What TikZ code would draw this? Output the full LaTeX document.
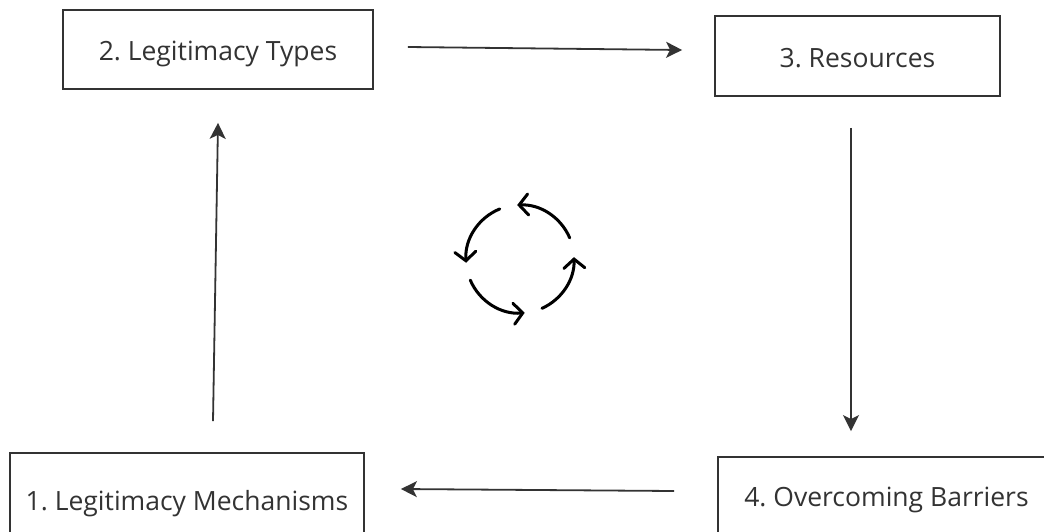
\documentclass[tikz,border=0pt]{standalone}
\usepackage{fontspec}
\setmainfont{Open Sans}
\usetikzlibrary{arrows.meta,calc}
\definecolor{ink}{HTML}{333333}
\tikzset{
  stage/.style={draw=ink, line width=1.8pt, rectangle, inner sep=0pt,
    text=ink, font=\fontsize{26.5}{30}\selectfont\frenchspacing,
    text height=22pt, text depth=0pt},
  flow/.style={draw=ink, line width=1.8pt,
    -{Stealth[length=16pt, width=16pt, inset=4pt]}},
  loop/.style={draw=black, line width=3pt, line cap=round,
    -{Straight Barb[length=9pt, width=21pt, line cap=round]}}
}
\begin{document}
\begin{tikzpicture}[x=1pt, y=-1pt]
  \useasboundingbox (0,0) rectangle (1044,531);
  \clip (0,0) rectangle (1044,531);
  \fill[white] (0,0) rectangle (1044,531);

  % the four stages of the cycle
  \node[stage, minimum width=310pt, minimum height=79pt] (b2) at (218,49.5) {2. Legitimacy Types};
  \node[stage, minimum width=285pt, minimum height=80pt] (b3) at (857.5,56) {3. Resources};
  \node[stage, minimum width=354pt, minimum height=92pt] (b1) at (187,499) {1. Legitimacy Mechanisms};
  \node[stage, minimum width=337pt, minimum height=76pt] (b4) at (886.5,495) {4. Overcoming Barriers};

  % connectors between the stages
  \draw[flow] ($(b2.east)+(34,-2.5)$) -- ($(b3.west)+(-32,-6)$);
  \draw[flow] ($(b3.south)+(-6.5,31)$) -- ($(b4.north)+(-35.5,-25)$);
  \draw[flow] ($(b4.west)+(-43,-4)$) -- ($(b1.east)+(36,-10)$);
  \draw[flow] ($(b1.north)+(26,-31)$) -- ($(b2.south)+(0,33)$);

  % circular arrows symbol in the middle
  \begin{scope}[shift={(520,259)}, y=1pt]
    \draw[loop] (23:54) arc[start angle=23, end angle=93, radius=54];
    \draw[loop] (112:54) arc[start angle=112, end angle=184, radius=54];
    \draw[loop] (203:54) arc[start angle=203, end angle=275, radius=54];
    \draw[loop] (294:54) arc[start angle=294, end angle=362, radius=54];
  \end{scope}
\end{tikzpicture}
\end{document}
